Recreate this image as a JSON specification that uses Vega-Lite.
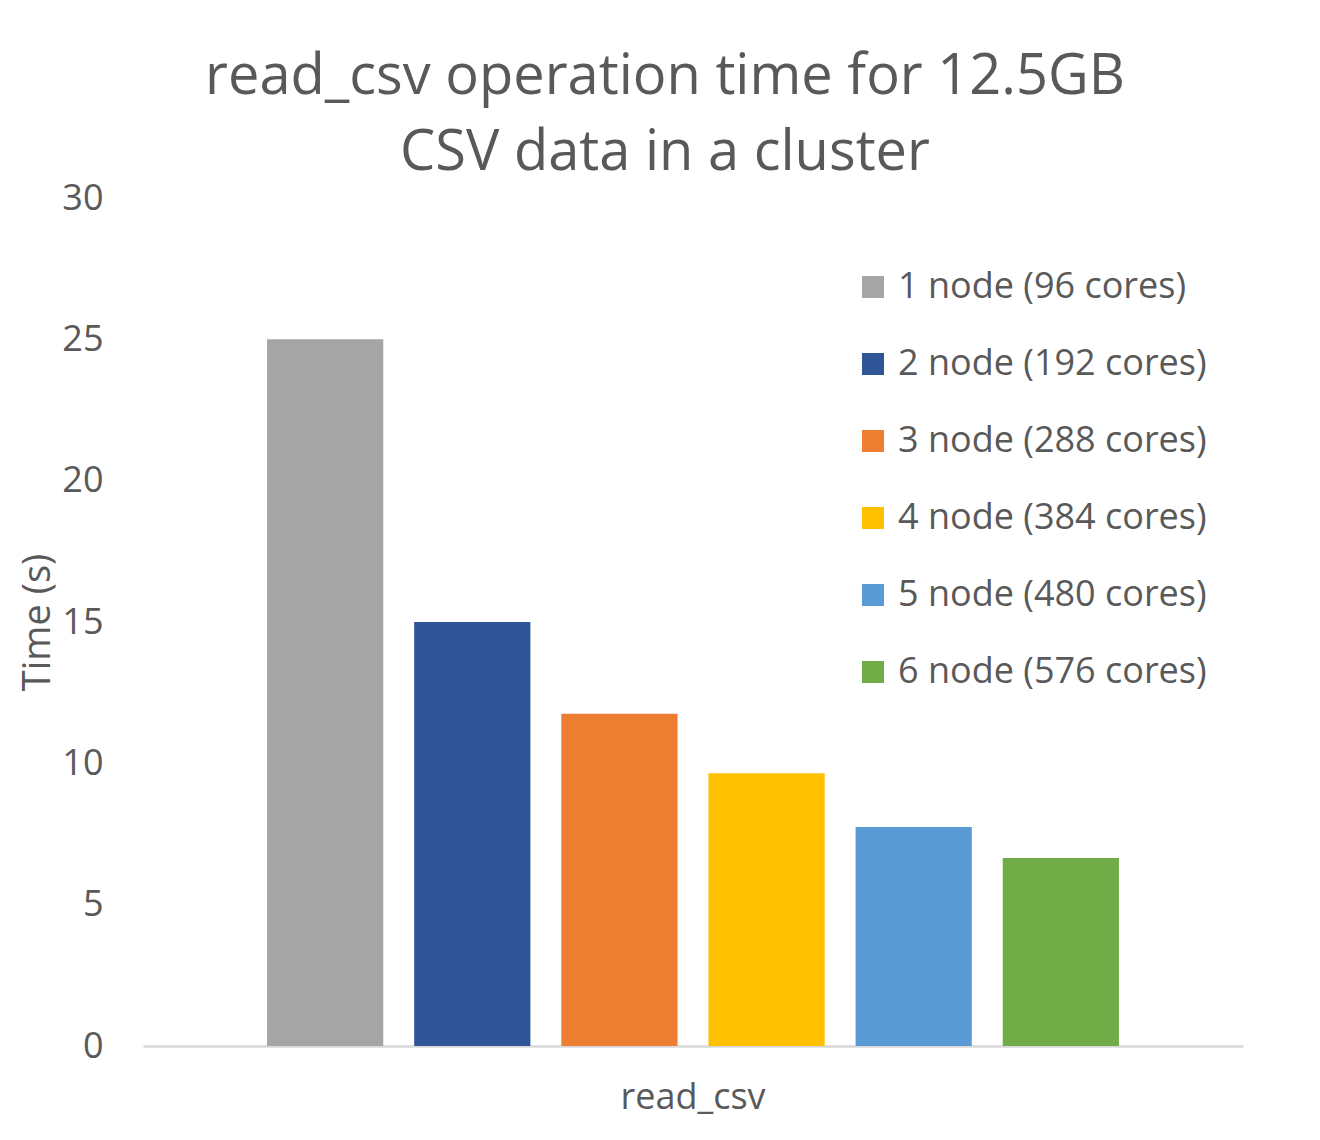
{
  "$schema": "https://vega.github.io/schema/vega-lite/v6.json",
  "width": 1100,
  "height": 848,
  "autosize": "none",
  "padding": {"left": 143, "top": 198, "right": 77, "bottom": 94},
  "background": "white",
  "config": {
    "font": "Open Sans",
    "view": {"stroke": null},
    "axis": {"grid": false}
  },
  "title": {
    "text": ["read_csv operation time for 12.5GB", "CSV data in a cluster"],
    "fontSize": 56,
    "fontWeight": "normal",
    "color": "#595959",
    "lineHeight": 76,
    "anchor": "middle",
    "dx": -28,
    "offset": -2
  },
  "data": {
    "values": [
      {"op": "read_csv", "series": "1 node (96 cores)", "time": 25.0},
      {"op": "read_csv", "series": "2 node (192 cores)", "time": 15.0},
      {"op": "read_csv", "series": "3 node (288 cores)", "time": 11.75},
      {"op": "read_csv", "series": "4 node (384 cores)", "time": 9.65},
      {"op": "read_csv", "series": "5 node (480 cores)", "time": 7.75},
      {"op": "read_csv", "series": "6 node (576 cores)", "time": 6.65}
    ]
  },
  "mark": {"type": "bar"},
  "encoding": {
    "x": {
      "field": "op",
      "type": "nominal",
      "scale": {"paddingInner": 0, "paddingOuter": 0.123},
      "axis": {
        "title": null,
        "labelAngle": 0,
        "labelFontSize": 36,
        "labelColor": "#595959",
        "labelPadding": 34,
        "ticks": false,
        "domainColor": "#d9d9d9",
        "domainWidth": 2.5
      }
    },
    "xOffset": {
      "field": "series",
      "type": "nominal",
      "scale": {"paddingInner": 0.21, "paddingOuter": 0.105}
    },
    "y": {
      "field": "time",
      "type": "quantitative",
      "scale": {"domain": [0, 30]},
      "axis": {
        "title": "Time (s)",
        "titleFontSize": 38,
        "titleFontWeight": "normal",
        "titleColor": "#595959",
        "titlePadding": 4,
        "values": [0, 5, 10, 15, 20, 25, 30],
        "labelFontSize": 36,
        "labelColor": "#595959",
        "labelPadding": 40,
        "ticks": false,
        "domain": false
      }
    },
    "color": {
      "field": "series",
      "type": "nominal",
      "scale": {
        "domain": ["1 node (96 cores)", "2 node (192 cores)", "3 node (288 cores)", "4 node (384 cores)", "5 node (480 cores)", "6 node (576 cores)"],
        "range": ["#A5A5A5", "#2F5597", "#ED7D31", "#FFC000", "#5B9BD5", "#70AD47"]
      },
      "legend": {
        "title": null,
        "orient": "none",
        "legendX": 712,
        "legendY": 71,
        "padding": 0,
        "labelFontSize": 36,
        "labelColor": "#595959",
        "symbolType": "square",
        "symbolSize": 484,
        "symbolStrokeWidth": 0,
        "rowPadding": 41,
        "labelOffset": 7,
        "labelLimit": 400
      }
    }
  }
}
